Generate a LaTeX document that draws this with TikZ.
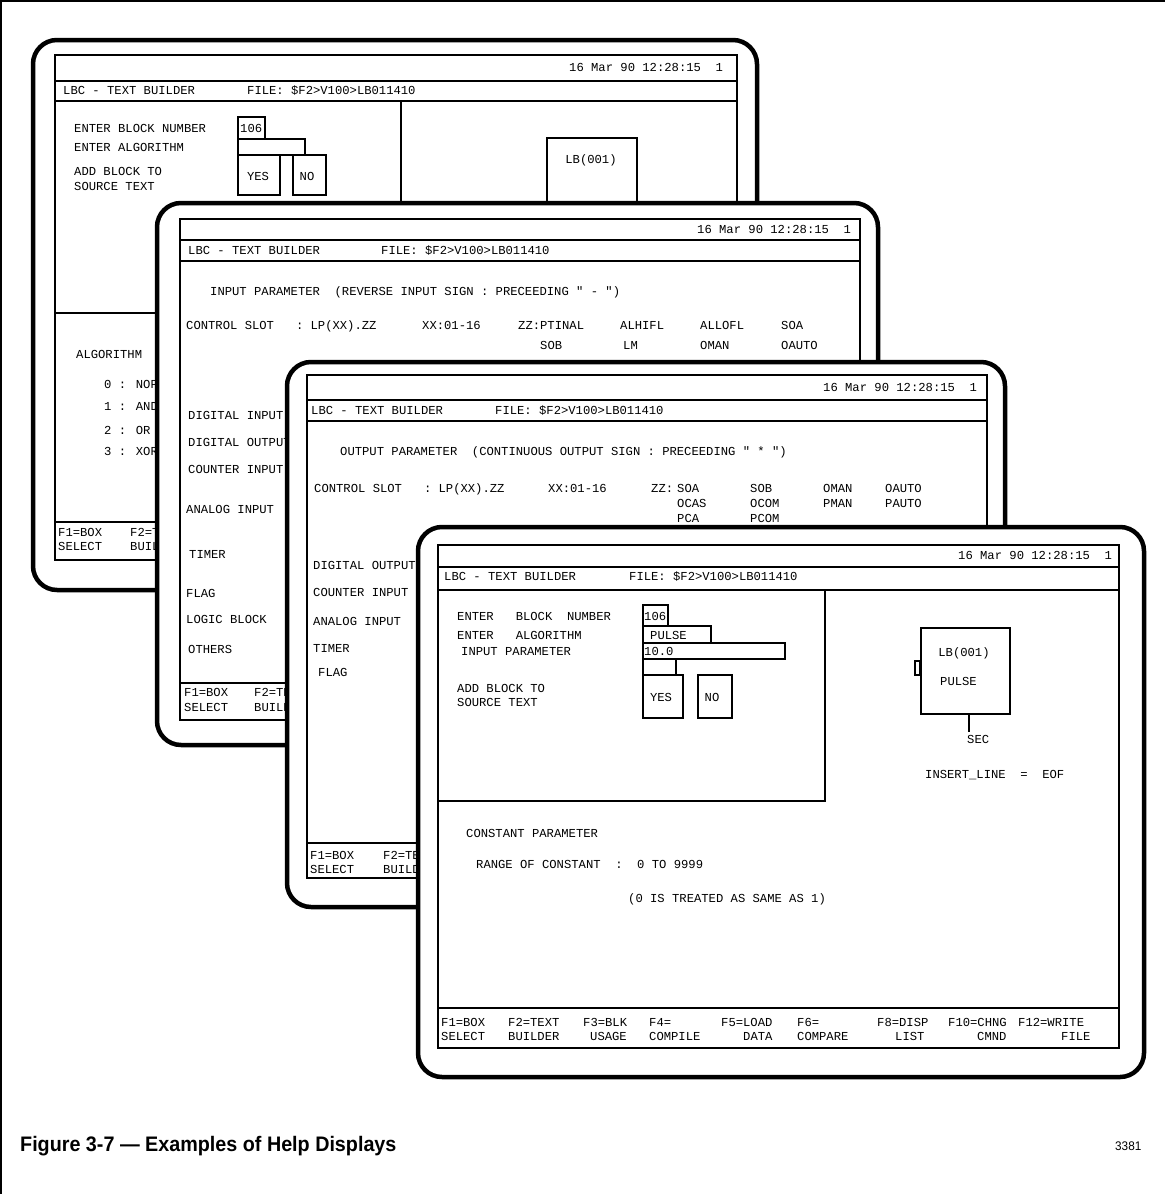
\documentclass[tikz,border=0pt]{standalone}
\usepackage{fontspec}
\newfontfamily\scrfont{Liberation Mono}[WordSpace={1,0,0}]
\newfontfamily\capfont{Liberation Sans}[FakeStretch=0.94]
\newcommand{\scr}{\scrfont\fontsize{12.2}{14}\selectfont}
\usetikzlibrary{positioning}
\tikzstyle{bezel} = [draw, line width=4.5pt, rounded corners=24pt, fill=white]
\tikzstyle{panel} = [draw, line width=2.4pt]
\tikzstyle{txt} = [anchor=west, inner sep=0pt, font=\scr, text height=7pt, text depth=0pt]
\tikzstyle{ctxt} = [txt, anchor=center]

\begin{document}
\begin{tikzpicture}[x=1pt, y=-1pt]
  \useasboundingbox (0,0) rectangle (1165,1194);
  \draw[line width=1.5pt] (1,1194) -- (1,1) -- (1165,1);

  \draw[bezel] (33,40) rectangle (757,590);
  \draw[panel] (55,55) rectangle (737,560);
  \draw[panel] (55,81) -- (737,81) (55,101) -- (737,101);
  \draw[panel] (401,101) -- (401,313) -- (55,313);
  \draw[panel] (55,522) -- (737,522);
  \draw[panel] (238,117) rectangle (265,139);
  \draw[panel] (238,139) rectangle (305,155);
  \draw[panel] (238,155) rectangle (280,195);
  \draw[panel] (293,155) rectangle (326,195);
  \draw[panel] (547,138) rectangle (637,260);
  \node[txt] (s1date) at (569,68) {16 Mar 90 12:28:15~~1};
  \node[txt] (s1name) at (63,91) {LBC - TEXT BUILDER};
  \node[txt] (s1file) at (247,91) {FILE: \$F2>V100>LB011410};
  \node[txt] (s1blk) at (74,129) {ENTER BLOCK NUMBER};
  \node[txt] (s1alg) at (74,148) {ENTER ALGORITHM};
  \node[txt] (s1add) at (74,172) {ADD BLOCK TO};
  \node[txt] (s1src) at (74,187) {SOURCE TEXT};
  \node[txt] (s1num) at (240,129) {106};
  \node[ctxt] (s1yes) at (258,177) {YES};
  \node[ctxt] (s1no) at (307,177) {NO};
  \node[ctxt] (s1lb) at (591,160) {LB(001)};
  \node[txt] (s1list) at (76,355) {ALGORITHM};
  \node[txt] (s1nop) at (104,385) {0 : NOP};
  \node[txt] (s1and) at (104,407) {1 : AND};
  \node[txt] (s1or) at (104,431) {2 : OR};
  \node[txt] (s1xor) at (104,452) {3 : XOR};
  \node[txt] (s1fa) at (58,533) {F1=BOX};
  \node[txt] (s1fb) at (130,533) {F2=TEXT};
  \node[txt] (s1ga) at (58,547) {SELECT};
  \node[txt] (s1gb) at (130,547) {BUILDER};

  \draw[bezel] (157,203) rectangle (878,745);
  \draw[panel] (180,219) rectangle (860,720);
  \draw[panel] (180,240) -- (860,240) (180,261) -- (860,261);
  \draw[panel] (180,683) -- (860,683);
  \node[txt] (s2date) at (697,230) {16 Mar 90 12:28:15~~1};
  \node[txt] (s2name) at (188,251) {LBC - TEXT BUILDER};
  \node[txt] (s2file) at (381,251) {FILE: \$F2>V100>LB011410};
  \node[txt] (s2head) at (210,292) {INPUT PARAMETER~~(REVERSE INPUT SIGN : PRECEEDING " - ")};
  \node[txt] (s2slot) at (186,326) {CONTROL SLOT~~~: LP(XX).ZZ};
  \node[txt] (s2xx) at (422,326) {XX:01-16};
  \node[txt] (s2zz) at (518,326) {ZZ:PTINAL};
  \node[txt] (s2hi) at (620,326) {ALHIFL};
  \node[txt] (s2lo) at (700,326) {ALLOFL};
  \node[txt] (s2soa) at (781,326) {SOA};
  \node[txt] (s2sob) at (540,346) {SOB};
  \node[txt] (s2lm) at (623,346) {LM};
  \node[txt] (s2oman) at (700,346) {OMAN};
  \node[txt] (s2oauto) at (781,346) {OAUTO};
  \node[txt] (s2di) at (188,416) {DIGITAL INPUT};
  \node[txt] (s2do) at (188,443) {DIGITAL OUTPUT};
  \node[txt] (s2ci) at (188,470) {COUNTER INPUT};
  \node[txt] (s2ai) at (186,510) {ANALOG INPUT};
  \node[txt] (s2tm) at (189,555) {TIMER};
  \node[txt] (s2fl) at (186,594) {FLAG};
  \node[txt] (s2lb) at (186,620) {LOGIC BLOCK};
  \node[txt] (s2ot) at (188,650) {OTHERS};
  \node[txt] (s2fa) at (184,693) {F1=BOX};
  \node[txt] (s2fb) at (254,693) {F2=TEXT};
  \node[txt] (s2ga) at (184,708) {SELECT};
  \node[txt] (s2gb) at (254,708) {BUILDER};

  \draw[bezel] (287,362) rectangle (1005,907);
  \draw[panel] (307,375) rectangle (987,878);
  \draw[panel] (307,400) -- (987,400) (307,421) -- (987,421);
  \draw[panel] (307,843) -- (987,843);
  \node[txt] (s3date) at (823,388) {16 Mar 90 12:28:15~~1};
  \node[txt] (s3name) at (311,411) {LBC - TEXT BUILDER};
  \node[txt] (s3file) at (495,411) {FILE: \$F2>V100>LB011410};
  \node[txt] (s3head) at (340,452) {OUTPUT PARAMETER~~(CONTINUOUS OUTPUT SIGN : PRECEEDING " * ")};
  \node[txt] (s3slot) at (314,489) {CONTROL SLOT~~~: LP(XX).ZZ};
  \node[txt] (s3xx) at (548,489) {XX:01-16};
  \node[txt] (s3zz) at (651,489) {ZZ:};
  \node[txt] (s3soa) at (677,489) {SOA};
  \node[txt] (s3sob) at (750,489) {SOB};
  \node[txt] (s3oman) at (823,489) {OMAN};
  \node[txt] (s3oauto) at (885,489) {OAUTO};
  \node[txt] (s3ocas) at (677,504) {OCAS};
  \node[txt] (s3ocom) at (750,504) {OCOM};
  \node[txt] (s3pman) at (823,504) {PMAN};
  \node[txt] (s3pauto) at (885,504) {PAUTO};
  \node[txt] (s3pca) at (677,519) {PCA};
  \node[txt] (s3pcom) at (750,519) {PCOM};
  \node[txt] (s3do) at (313,566) {DIGITAL OUTPUT};
  \node[txt] (s3ci) at (313,593) {COUNTER INPUT};
  \node[txt] (s3ai) at (313,622) {ANALOG INPUT};
  \node[txt] (s3tm) at (313,649) {TIMER};
  \node[txt] (s3fl) at (318,673) {FLAG};
  \node[txt] (s3fa) at (310,856) {F1=BOX};
  \node[txt] (s3fb) at (383,856) {F2=TEXT};
  \node[txt] (s3ga) at (310,870) {SELECT};
  \node[txt] (s3gb) at (383,870) {BUILDER};

  \draw[bezel] (418,527) rectangle (1144,1077);
  \draw[panel] (438,545) rectangle (1119,1048);
  \draw[panel] (438,567) -- (1119,567) (438,590) -- (1119,590);
  \draw[panel] (825,590) -- (825,801) -- (438,801);
  \draw[panel] (438,1008) -- (1119,1008);
  \draw[panel] (643,605) rectangle (668,626);
  \draw[panel] (643,626) rectangle (711,643);
  \draw[panel] (643,643) rectangle (785,659);
  \draw[panel] (643,659) rectangle (676,675);
  \draw[panel] (643,675) rectangle (683,718);
  \draw[panel] (698,675) rectangle (732,718);
  \node[panel, anchor=north west, inner sep=0pt, minimum width=89pt, minimum height=86pt] (s4box) at (920,627) {};
  \draw[line width=2pt] (915,661) rectangle (920,675);
  \node[txt] (s4date) at (958,556) {16 Mar 90 12:28:15~~1};
  \node[txt] (s4name) at (444,577) {LBC - TEXT BUILDER};
  \node[txt] (s4file) at (629,577) {FILE: \$F2>V100>LB011410};
  \node[txt] (s4blk) at (457,617) {ENTER~~~BLOCK~~NUMBER};
  \node[txt] (s4alg) at (457,636) {ENTER~~~ALGORITHM};
  \node[txt] (s4par) at (461,652) {INPUT PARAMETER};
  \node[txt] (s4add) at (457,689) {ADD BLOCK TO};
  \node[txt] (s4src) at (457,703) {SOURCE TEXT};
  \node[txt] (s4num) at (644,617) {106};
  \node[txt] (s4pulse) at (650,636) {PULSE};
  \node[txt] (s4val) at (644,652) {10.0};
  \node[ctxt] (s4yes) at (661,698) {YES};
  \node[ctxt] (s4no) at (712,698) {NO};
  \node[ctxt] (s4lb) at (964,653) {LB(001)};
  \node[txt] (s4alg2) at (940,682) {PULSE};
  \node[txt] (s4sec) at (967,740) {SEC};
  \draw[panel] (s4box.south -| s4sec.north west) ++(2pt,0) coordinate (s4tap) -- ([xshift=2pt, yshift=4pt]s4sec.north west);
  \node[txt] (s4ins) at (925,775) {INSERT\_LINE~~=~~EOF};
  \node[txt] (s4const) at (466,834) {CONSTANT PARAMETER};
  \node[txt] (s4range) at (476,865) {RANGE OF CONSTANT~~:~~0 TO 9999};
  \node[txt] (s4note) at (628,899) {(0 IS TREATED AS SAME AS 1)};
  \node[txt] (s4f1) at (441,1023) {F1=BOX};
  \node[txt] (s4f2) at (508,1023) {F2=TEXT};
  \node[txt] (s4f3) at (583,1023) {F3=BLK};
  \node[txt] (s4f4) at (649,1023) {F4=};
  \node[txt] (s4f5) at (721,1023) {F5=LOAD};
  \node[txt] (s4f6) at (797,1023) {F6=};
  \node[txt] (s4f8) at (877,1023) {F8=DISP};
  \node[txt] (s4f10) at (948,1023) {F10=CHNG};
  \node[txt] (s4f12) at (1018,1023) {F12=WRITE};
  \node[txt] (s4g1) at (441,1037) {SELECT};
  \node[txt] (s4g2) at (508,1037) {BUILDER};
  \node[txt] (s4g3) at (590,1037) {USAGE};
  \node[txt] (s4g4) at (649,1037) {COMPILE};
  \node[txt] (s4g5) at (743,1037) {DATA};
  \node[txt] (s4g6) at (797,1037) {COMPARE};
  \node[txt] (s4g8) at (895,1037) {LIST};
  \node[txt] (s4g10) at (977,1037) {CMND};
  \node[txt] (s4g12) at (1061,1037) {FILE};

  \node[anchor=base west, inner sep=0pt, font=\capfont\bfseries\fontsize{21}{24}\selectfont] (caption) at (20,1151) {Figure 3-7 — Examples of Help Displays};
  \node[anchor=base west, inner sep=0pt, font=\capfont\fontsize{12.5}{14}\selectfont] (figno) at (1115,1150) {3381};
\end{tikzpicture}
\end{document}
